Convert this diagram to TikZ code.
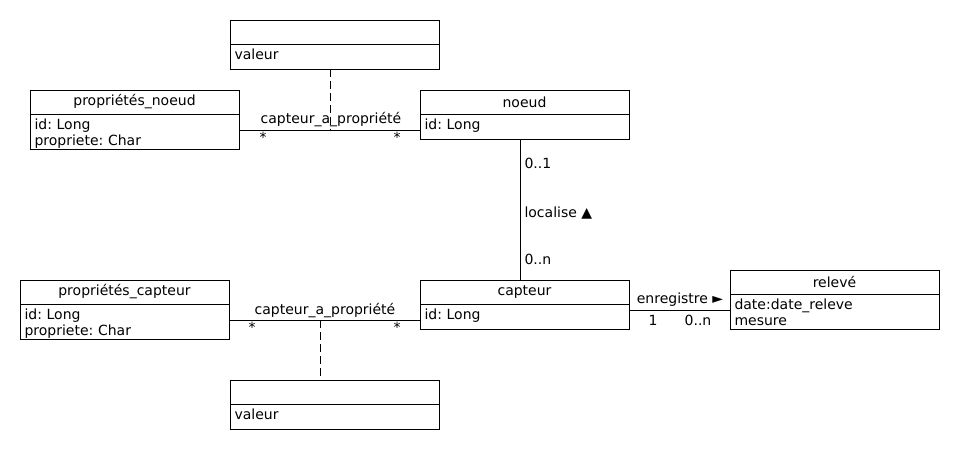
\documentclass[tikz,border=0pt]{standalone}
\usepackage{fontspec}
\setmainfont{DejaVu Sans}
\frenchspacing
\begin{document}
\begin{tikzpicture}[x=1pt,y=-1pt, font=\fontsize{14}{16}\selectfont\frenchspacing, line width=1pt,
 head/.style={minimum width=209pt, minimum height=24pt, anchor=north west, inner sep=0pt, outer sep=0pt},
 body/.style={text width=200pt, align=left, anchor=north west, inner xsep=4.5pt, inner ysep=4.5pt, outer sep=0pt},
 lbl/.style={inner sep=0pt},
 assoc/.style={draw},
 dep/.style={draw, dash pattern=on 8pt off 4pt}]
\useasboundingbox[fill=white] (0,0) rectangle (960,450);

% top valeur
\node[head] (v1h) at (230,20) {};
\node[body] (v1b) at (v1h.south west) {valeur};
\draw (v1h.north west) rectangle ([yshift=-25pt]v1h.south east);
\draw (v1h.south west) -- (v1h.south east);
% propriétés_noeud
\node[head] (pnh) at (30,90) {propriétés\_noeud};
\node[body] (pnb) at (pnh.south west) {id: Long\\propriete: Char};
\draw (pnh.north west) rectangle ([yshift=-35pt]pnh.south east);
\draw (pnh.south west) -- (pnh.south east);
% noeud
\node[head] (nh) at (420,90) {noeud};
\node[body] (nb) at (nh.south west) {id: Long};
\draw (nh.north west) rectangle ([yshift=-25pt]nh.south east);
\draw (nh.south west) -- (nh.south east);
% capteur
\node[head] (ch) at (420,280) {capteur};
\node[body] (cb) at (ch.south west) {id: Long};
\draw (ch.north west) rectangle ([yshift=-25pt]ch.south east);
\draw (ch.south west) -- (ch.south east);
% relevé
\node[head] (rh) at (730,270) {relevé};
\node[body] (rb) at (rh.south west) {date:date\_releve\\mesure};
\draw (rh.north west) rectangle ([yshift=-35pt]rh.south east);
\draw (rh.south west) -- (rh.south east);
% propriétés_capteur
\node[head] (pch) at (20,280) {propriétés\_capteur};
\node[body] (pcb) at (pch.south west) {id: Long\\propriete: Char};
\draw (pch.north west) rectangle ([yshift=-35pt]pch.south east);
\draw (pch.south west) -- (pch.south east);
% bottom valeur
\node[head] (v2h) at (230,380) {};
\node[body] (v2b) at (v2h.south west) {valeur};
\draw (v2h.north west) rectangle ([yshift=-25pt]v2h.south east);
\draw (v2h.south west) -- (v2h.south east);

% association noeud
\coordinate (a1) at (330,130);
\coordinate (t1) at ([yshift=-25pt]v1h.south -| a1);
\draw[assoc] (pnh.east |- a1) -- (nh.west |- a1);
\draw[dep] (t1) -- (a1);
\node[lbl] (l1) at (331,120) {capteur\_a\_propriété};
\node[lbl] (s1) at (263,137) {*};
\node[lbl] (s2) at (397,137) {*};

% localise
\coordinate (vx) at (520,0);
\coordinate (vt) at ([yshift=-25pt]nh.south -| vx);
\draw[assoc] (vt) -- (ch.north -| vx);
\node[lbl, anchor=west] (m1) at (524,163) {0..1};
\node[lbl, anchor=west] (m2) at (524,213) {localise ▲};
\node[lbl, anchor=west] (m3) at (524,259) {0..n};

% enregistre
\coordinate (e) at (0,310);
\draw[assoc] (ch.east |- e) -- (rh.west |- e);
\node[lbl] (l3) at (680,300) {enregistre ►};
\node[lbl] (m4) at (653,320) {1};
\node[lbl] (m5) at (698,320) {0..n};

% association capteur
\coordinate (a2) at (320,320);
\draw[assoc] (pch.east |- a2) -- (ch.west |- a2);
\draw[dep] (a2) -- (v2h.north -| a2);
\node[lbl] (l2) at (325,311) {capteur\_a\_propriété};
\node[lbl] (s3) at (252,327) {*};
\node[lbl] (s4) at (397,327) {*};
\end{tikzpicture}
\end{document}
